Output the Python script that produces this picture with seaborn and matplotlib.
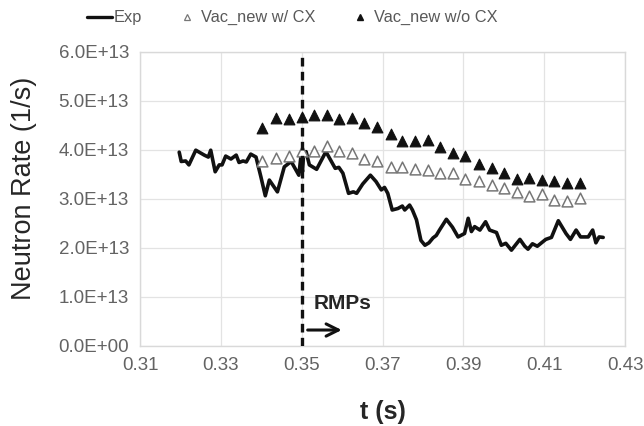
import numpy as np
import pandas as pd
import matplotlib
matplotlib.use("Agg")
import matplotlib.pyplot as plt
from matplotlib.ticker import FuncFormatter
from matplotlib.lines import Line2D
import seaborn as sns

# values, rate in units of 1e13 1/s
SCALE = 1e13

t_exp = [0.3197, 0.3202, 0.3213, 0.3221, 0.3238, 0.3259, 0.3269, 0.3275, 0.3286, 0.3296,
         0.3303, 0.3312, 0.3325, 0.3338, 0.3345, 0.3355, 0.3363, 0.3374, 0.3387, 0.3399,
         0.3410, 0.3420, 0.3440, 0.3457, 0.3474, 0.3493, 0.3498, 0.3502, 0.3505, 0.3511,
         0.3519, 0.3537, 0.3560, 0.3583, 0.3592, 0.3602, 0.3616, 0.3628, 0.3636, 0.3651,
         0.3670, 0.3684, 0.3697, 0.3705, 0.3713, 0.3724, 0.3738, 0.3749, 0.3755, 0.3767,
         0.3774, 0.3784, 0.3795, 0.3805, 0.3815, 0.3825, 0.3833, 0.3841, 0.3858, 0.3873,
         0.3887, 0.3903, 0.3912, 0.3920, 0.3928, 0.3941, 0.3955, 0.3965, 0.3982, 0.3994,
         0.4005, 0.4019, 0.4040, 0.4052, 0.4060, 0.4071, 0.4083, 0.4104, 0.4118, 0.4135,
         0.4154, 0.4165, 0.4179, 0.4190, 0.4209, 0.4220, 0.4228, 0.4236, 0.4246]
exp_rate = [3.95, 3.76, 3.77, 3.69, 3.99, 3.89, 3.85, 3.99, 3.55, 3.69,
            3.69, 3.87, 3.81, 3.89, 3.74, 3.77, 3.75, 3.91, 3.85, 3.45,
            3.06, 3.38, 3.14, 3.65, 3.76, 3.48, 3.85, 3.55, 3.95, 3.96,
            3.69, 3.60, 3.96, 3.62, 3.64, 3.52, 3.11, 3.14, 3.11, 3.30,
            3.48, 3.35, 3.18, 3.23, 3.11, 2.77, 2.80, 2.85, 2.77, 2.87,
            2.77, 2.57, 2.15, 2.05, 2.10, 2.20, 2.25, 2.36, 2.58, 2.42,
            2.22, 2.29, 2.60, 2.33, 2.43, 2.36, 2.53, 2.36, 2.31, 2.05,
            2.09, 1.95, 2.17, 2.03, 1.97, 2.08, 2.03, 2.17, 2.21, 2.55,
            2.29, 2.17, 2.36, 2.22, 2.22, 2.36, 2.10, 2.22, 2.21]

t_vac = [0.3403, 0.3436, 0.3469, 0.3501, 0.3531, 0.3562, 0.3593, 0.3624, 0.3655, 0.3687,
         0.3720, 0.3749, 0.3781, 0.3812, 0.3843, 0.3874, 0.3903, 0.3939, 0.3970, 0.4000,
         0.4032, 0.4063, 0.4094, 0.4125, 0.4156, 0.4189]
vac_cx = [3.77, 3.84, 3.87, 3.97, 3.97, 4.08, 3.97, 3.94, 3.81, 3.76,
          3.64, 3.64, 3.60, 3.59, 3.53, 3.53, 3.40, 3.37, 3.28, 3.21,
          3.14, 3.06, 3.10, 2.97, 2.95, 3.01]
vac_nocx = [4.45, 4.65, 4.62, 4.66, 4.70, 4.70, 4.62, 4.65, 4.55, 4.47,
            4.32, 4.18, 4.18, 4.20, 4.05, 3.94, 3.87, 3.70, 3.62, 3.53,
            3.40, 3.43, 3.38, 3.36, 3.33, 3.33]

x_ticks = [0.31, 0.33, 0.35, 0.37, 0.39, 0.41, 0.43]
y_ticks = [0, 1e13, 2e13, 3e13, 4e13, 5e13, 6e13]
rmp_time = 0.35

exp_df = pd.DataFrame({"t": t_exp, "rate": np.array(exp_rate) * SCALE})
vac_df = pd.DataFrame({"t": t_vac,
                       "cx": np.array(vac_cx) * SCALE,
                       "nocx": np.array(vac_nocx) * SCALE})

sns.set_style("whitegrid", {"grid.color": "#d9d9d9", "axes.edgecolor": "#d9d9d9"})
plt.rcParams['font.family'] = ['Liberation Sans', 'DejaVu Sans']

fig = plt.figure(figsize=(6.44, 4.26), dpi=100)
ax = fig.add_axes([0.2174, 0.1885, 0.7531, 0.6901])

sns.lineplot(data=exp_df, x="t", y="rate", ax=ax, color="#111111", linewidth=2.6,
             estimator=None, sort=False)
sns.scatterplot(data=vac_df, x="t", y="cx", ax=ax, marker="^", s=60,
                facecolor="white", edgecolor="#777777", linewidth=1.1, zorder=3)
sns.scatterplot(data=vac_df, x="t", y="nocx", ax=ax, marker="^", s=60,
                color="#111111", edgecolor="#111111", linewidth=0.8, zorder=3)

ax.axvline(rmp_time, color="#111111", linewidth=2.4, linestyle=(0, (2.6, 1.6)), zorder=4)

ax.annotate("", xy=(0.3606, 0.32e13), xytext=(0.3508, 0.32e13),
            arrowprops=dict(arrowstyle="->", color="#111111", lw=2.2, mutation_scale=22))
ax.text(0.3530, 0.86e13, "RMPs", fontsize=15, fontweight="bold", color="#262626",
        va="center", ha="left")

ax.set_xlim(0.31, 0.43)
ax.set_ylim(0, 6e13)
ax.set_xticks(x_ticks)
ax.set_yticks(y_ticks)
ax.xaxis.set_major_formatter(FuncFormatter(lambda v, p: f"{v:.2f}"))
ax.yaxis.set_major_formatter(FuncFormatter(lambda v, p: f"{v:.1E}"))
ax.tick_params(axis="both", labelsize=13.5, labelcolor="#636363", length=0, pad=8)
for s in ax.spines.values():
    s.set_color("#d9d9d9")
    s.set_linewidth(1)
ax.grid(True, color="#e3e3e3", linewidth=0.9)

ax.set_xlabel("t (s)", fontsize=18, fontweight="bold", color="#262626", labelpad=19)
ax.set_ylabel("Neutron Rate (1/s)", fontsize=19.5, color="#262626")
ax.yaxis.set_label_coords(-0.212, 0.535)

handles = [
    Line2D([], [], color="#111111", linewidth=2.4),
    Line2D([], [], marker="^", linestyle="none", markersize=5,
           markerfacecolor="white", markeredgecolor="#777777", markeredgewidth=0.9),
    Line2D([], [], marker="^", linestyle="none", markersize=5,
           markerfacecolor="#111111", markeredgecolor="#111111"),
]
fig.legend(handles, ["Exp", "Vac_new w/ CX", "Vac_new w/o CX"], loc="center",
           bbox_to_anchor=(0.454, 0.958), ncol=3, frameon=False, fontsize=11.8,
           labelcolor="#595959", handlelength=1.5, handletextpad=0.1,
           columnspacing=2.0)

fig.savefig("out.png", dpi=100)
